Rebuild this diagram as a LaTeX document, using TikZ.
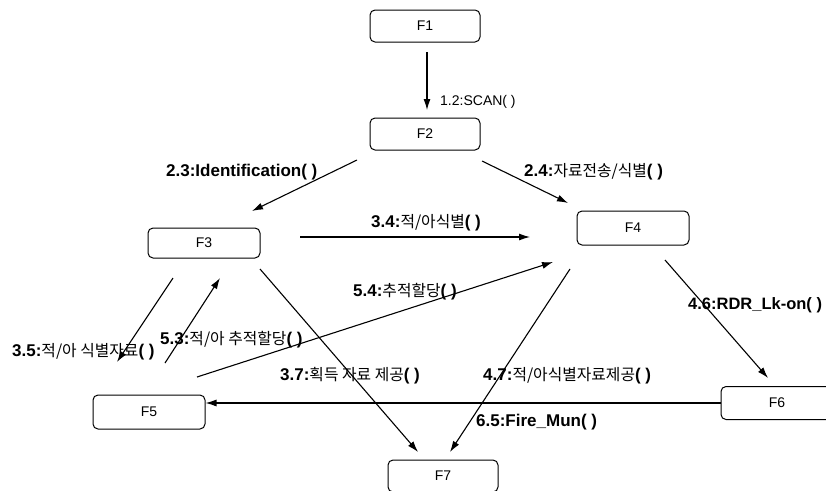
\documentclass[tikz,border=0pt]{standalone}
\usepackage{fontspec}
\setmainfont{Liberation Sans}
\newfontfamily\kr[Scale=0.93]{Noto Sans CJK KR}
\usetikzlibrary{arrows.meta}
\begin{document}
\begin{tikzpicture}[x=1pt,y=-1pt,
  fbox/.style={draw,rounded corners=5pt,line width=1pt,minimum width=110pt,minimum height=32pt,inner sep=0pt,font=\fontsize{14}{14}\selectfont},
  conn/.style={line width=1.1pt,-{Latex[length=11pt,width=7pt]}},
  lab/.style={anchor=west,inner sep=0pt,font=\fontsize{17}{17}\selectfont\bfseries},
  labr/.style={anchor=west,inner sep=0pt,font=\fontsize{14}{14}\selectfont}]
\useasboundingbox (0,0) rectangle (826,490);
\clip (0,0) rectangle (826,490);
\node[fbox] (F1) at (425,26) {F1};
\node[fbox] (F2) at (425,134) {F2};
\node[fbox,minimum width=112pt,minimum height=30pt] (F3) at (204,243) {F3};
\node[fbox,minimum width=112pt,minimum height=34pt] (F4) at (633,228) {F4};
\node[fbox,minimum width=112pt,minimum height=34pt] (F5) at (149,412) {F5};
\node[fbox,minimum width=112pt,minimum height=33pt] (F6) at (777,403) {F6};
\node[fbox] (F7) at (443,476) {F7};
% free ends
\coordinate (c12s) at (427,52);
\coordinate (c12e) at (427,110);
\coordinate (c23s) at (357,160);
\coordinate (c23e) at (252,211);
\coordinate (c24s) at (482,161);
\coordinate (c24e) at (568,203);
\coordinate (c34s) at (300,237);
\coordinate (c34e) at (530,237);
\coordinate (c35s) at (173,278);
\coordinate (c35e) at (117,362);
\coordinate (c53s) at (165,363);
\coordinate (c53e) at (220,278);
\coordinate (c54s) at (197,377);
\coordinate (c54e) at (553,262);
\coordinate (c37s) at (260,269);
\coordinate (c37e) at (418,452);
\coordinate (c47s) at (570,269);
\coordinate (c47e) at (450,452);
\coordinate (c46s) at (665,260);
\coordinate (c46e) at (768,378);
\draw[conn] (c12s) -- (c12e);
\draw[conn] (c23s) -- (c23e);
\draw[conn] (c24s) -- (c24e);
\draw[conn] (c34s) -- (c34e);
\draw[conn] (c35s) -- (c35e);
\draw[conn] (c53s) -- (c53e);
\draw[conn] (c54s) -- (c54e);
\draw[conn] (c37s) -- (c37e);
\draw[conn] (c47s) -- (c47e);
\draw[conn] (c46s) -- (c46e);
\draw[conn] (F6.west) -- (F6.west -| F5.east);
% labels
\node[labr] (l12) at (440,102) {1.2:SCAN( )};
\node[lab] (l23) at (166,172) {2.3:Identification( )};
\node[lab] (l24) at (524,172) {2.4:{\kr\mdseries 자료전송/식별}( )};
\node[lab] (l34) at (371,223) {3.4:{\kr\mdseries 적/아식별}( )};
\node[lab] (l54) at (353,292) {5.4:{\kr\mdseries 추적할당}( )};
\node[lab] (l53) at (160,340) {5.3:{\kr\mdseries 적/아 추적할당}( )};
\node[lab] (l35) at (12,352) {3.5:{\kr\mdseries 적/아 식별자료}( )};
\node[lab] (l37) at (280,376) {3.7:{\kr\mdseries 획득 자료 제공}( )};
\node[lab] (l47) at (483,376) {4.7:{\kr\mdseries 적/아식별자료제공}( )};
\node[lab] (l65) at (476,422) {6.5:Fire\_Mun( )};
\node[lab,font=\fontsize{16.5}{16.5}\selectfont\bfseries] (l46) at (688,305) {4.6:RDR\_Lk-on( )};
\end{tikzpicture}
\end{document}
